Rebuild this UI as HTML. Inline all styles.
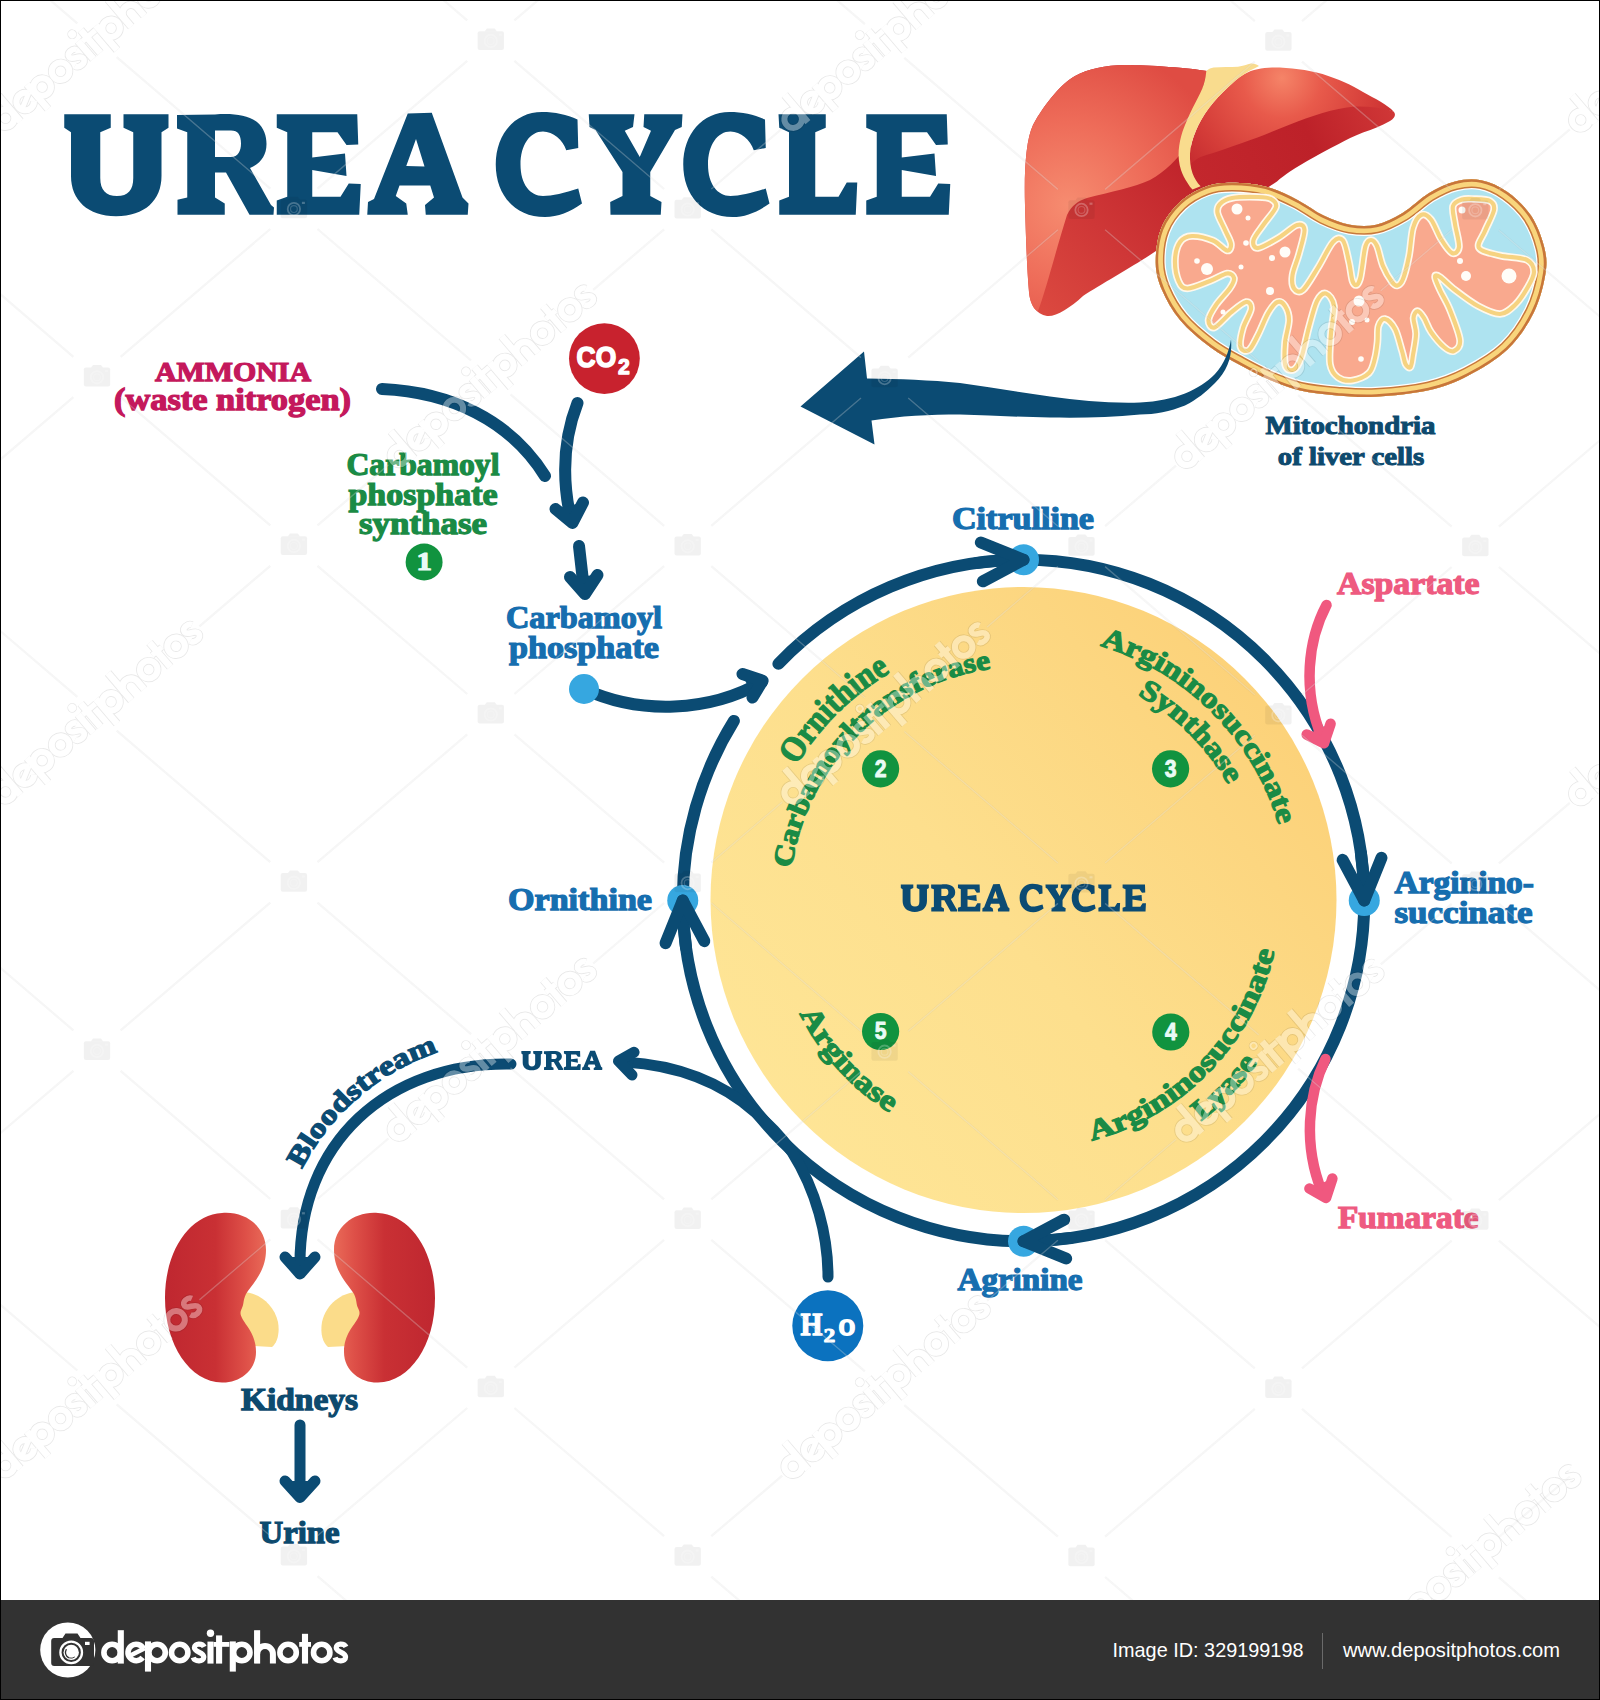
<!DOCTYPE html>
<html lang="en">
<head>
<meta charset="utf-8">
<title>Urea Cycle</title>
<style>
html,body{margin:0;padding:0;background:#fff;}
body{width:1600px;height:1700px;overflow:hidden;position:relative;font-family:"Liberation Serif",serif;}
svg{position:absolute;left:0;top:0;display:block;}
text{font-family:"Liberation Serif",serif;font-weight:bold;}
.sans{font-family:"Liberation Sans",sans-serif;font-weight:normal;}
.sansb{font-family:"Liberation Sans",sans-serif;font-weight:bold;}
</style>
</head>
<body>
<svg width="1600" height="1700" viewBox="0 0 1600 1700">
<defs>
<linearGradient id="gYellow" x1="0.12" y1="0.88" x2="0.95" y2="0.2">
<stop offset="0" stop-color="#fee596"/><stop offset="0.45" stop-color="#fddf8d"/><stop offset="0.8" stop-color="#fcd680"/><stop offset="1" stop-color="#fcd178"/>
</linearGradient>
<clipPath id="cpMain"><rect x="1" y="1" width="1598" height="1599"/></clipPath>
</defs>
<rect x="0" y="0" width="1600" height="1700" fill="#ffffff"/>
<!-- title -->
<g fill="#0b4b73" fill-rule="evenodd">
<g id="tUREA">
<path d="M64.25,114.25 L110.75,114.25 L110.75,127.75 L100.25,132.25 L100.25,178 C100.25,190 106,196 117,196 C128,196 133.25,190 133.25,178 L133.25,132.25 L123.5,127.75 L123.5,114.25 L168.5,114.25 L168.5,127.75 L161.5,132.25 L161.5,176 C161.500,200 145,216.25 116,216.25 C88,216.25 71,200 71,176 L71,132.25 L64.25,127.75 Z"/>
<path d="M177,115 L215,114.5 C232,113 248,115 257,122 C264,128 266.5,136 266.5,144 C266.500,156 260,164 250,168 L271,205 L274,207.5 L273.5,214.75 L249.5,214.75 L226,172.5 L215,172.5 L215,197.5 L224.75,203.5 L224.75,214.75 L177.5,214.75 L177.5,199.75 L187.25,197.5 L187.25,132.25 L177,128.5 Z M215,130.5 L215,157 L231,157 C238,157 241,151 241,143.5 C241,135 238,130.500 231,130.500 Z"/>
<path d="M276.75,114.25 L357.25,114.25 L358.25,144.50 L346.50,145.00 L337.50,132.25 L312.25,132.25 L312.25,157.50 L345.00,153.50 L346.50,176.00 L312.25,170.00 L312.25,196.75 L340.50,196.75 L348.75,183.50 L360.75,184.00 L359.25,214.75 L276.75,214.75 L276.75,200.50 L287.25,196.75 L287.25,132.25 L276.75,127.75 Z"/>
<path d="M407.75,113.50 L431.75,112.75 L462.50,197.50 L468.50,203.50 L467.75,214.75 L425.75,214.75 L425.00,205.00 L434.00,197.50 L430.25,185.50 L399.50,185.50 L395.75,196.00 L406.25,203.50 L407.75,214.75 L367.25,214.75 L368.00,202.00 L374.00,199.00 Z M416.00,139.00 L424.50,166.50 L406.25,166.00 Z"/>
</g><g id="tCYCLE">
<path d="M577.50,119.50 L578.25,148.00 L566.25,150.25 C563.00,140.00 553.00,131.50 543.00,131.50 C530.00,131.50 520.50,145.00 520.50,164.50 C520.50,184.00 530.00,196.00 543.00,196.00 C552.00,196.00 565.00,193.00 578.25,188.50 L582.00,203.50 C570.00,212.00 558.00,217.00 545.00,217.00 C515.00,217.00 495.75,195.00 495.75,164.50 C495.75,134.00 515.00,112.00 542.00,112.00 C555.00,112.00 567.00,114.50 577.50,119.50 Z"/>
<path d="M588.75,114.25 L634.50,114.25 L633.00,127.00 L624.75,130.75 L639.75,157.00 L651.00,130.75 L643.50,127.00 L644.25,114.25 L682.50,114.25 L681.75,127.00 L675.00,130.00 L650.25,172.00 L650.25,196.00 L661.50,202.00 L660.75,214.75 L610.50,214.75 L610.20,202.00 L622.50,196.00 L622.50,172.00 L595.50,130.00 L589.50,127.00 Z"/>
<path d="M765.00,119.50 L765.75,148.00 L753.75,150.25 C750.50,140.00 740.50,131.50 730.50,131.50 C717.50,131.50 708.00,145.00 708.00,164.50 C708.00,184.00 717.50,196.00 730.50,196.00 C739.50,196.00 752.50,193.00 765.75,188.50 L769.50,203.50 C757.50,212.00 745.50,217.00 732.50,217.00 C702.50,217.00 683.25,195.00 683.25,164.50 C683.25,134.00 702.50,112.00 729.50,112.00 C742.50,112.00 754.50,114.50 765.00,119.50 Z"/>
<path d="M778.50,114.25 L825.75,114.25 L825.75,127.75 L815.25,132.25 L815.25,196.75 L838.50,196.75 L846.75,182.50 L857.25,182.50 L855.75,214.75 L779.25,214.75 L779.25,200.50 L789.00,196.75 L789.00,132.25 L779.25,127.75 Z"/>
<path d="M866.25,114.25 L946.75,114.25 L947.75,144.50 L936.00,145.00 L927.00,132.25 L901.75,132.25 L901.75,157.50 L934.50,153.50 L936.00,176.00 L901.75,170.00 L901.75,196.75 L930.00,196.75 L938.25,183.50 L950.25,184.00 L948.75,214.75 L866.25,214.75 L866.25,200.50 L876.75,196.75 L876.75,132.25 L866.25,127.75 Z"/>
</g></g>
<!-- liver -->
<defs>
<radialGradient id="gLivL" cx="1068" cy="205" r="165" gradientUnits="userSpaceOnUse">
<stop offset="0" stop-color="#f68c70"/><stop offset="0.5" stop-color="#ee6c59"/><stop offset="1" stop-color="#df4c43"/>
</radialGradient>
<linearGradient id="gLivLd" x1="1040" y1="320" x2="1190" y2="170" gradientUnits="userSpaceOnUse">
<stop offset="0" stop-color="#dc4a40"/><stop offset="0.5" stop-color="#cf3737"/><stop offset="1" stop-color="#c0242b"/>
</linearGradient>
<radialGradient id="gLivR" cx="1282" cy="78" r="125" gradientUnits="userSpaceOnUse">
<stop offset="0" stop-color="#f58468"/><stop offset="0.32" stop-color="#e85a4b"/><stop offset="0.75" stop-color="#d43c38"/><stop offset="1" stop-color="#c62c30"/>
</radialGradient>
<linearGradient id="gLivRd" x1="1200" y1="200" x2="1390" y2="110" gradientUnits="userSpaceOnUse">
<stop offset="0" stop-color="#c3272d"/><stop offset="0.6" stop-color="#bd2129"/><stop offset="1" stop-color="#cf3636"/>
</linearGradient>
</defs>
<!-- right lobe underside -->
<path d="M1188,150 C1230,100 1320,85 1393.500,111.500 C1396,114 1395.500,117.500 1390,121 C1382,125.500 1373,129 1363,132.600 C1354,136 1346,140 1338.700,144 C1330,148.500 1322,152.500 1314.400,157 C1305,162 1297,167 1290,171.600 C1285,175 1281,178 1277,181.400 C1262,192 1240,204 1215,215 L1185,215 Z" fill="url(#gLivRd)"/>
<!-- right lobe top face -->
<path d="M1191,163.500 L1190,153.800 C1190.500,146 1192.500,139 1195.800,131 C1199,123.500 1203,116 1208.800,108.300 C1214,101 1221,94 1228.300,87 C1233,82.500 1238,78 1244.500,74 C1253,69.500 1263,67.600 1273.700,67.600 C1290,67.600 1307,70 1322.500,74 C1338,79 1352,85 1363,92 C1375,98.500 1388,105 1393.500,111.500 C1380,107.500 1368,106.300 1355,106.600 C1344,107.500 1333,110 1322.500,113 C1311,116.500 1300,120.500 1290,124.500 C1279,129 1268,133.500 1257.500,137.500 C1246,141.500 1235,145.500 1225,149 C1216,152 1208,154.500 1200.600,157 C1197,158.500 1194,161 1191,163.500 Z" fill="url(#gLivR)"/>
<!-- left lobe (silhouette = dark underside) -->
<path d="M1207,71 C1190,68 1150,65 1125,65 C1105,65 1088,69 1075,76 C1062,83 1045,103 1033,125 C1026,140 1024,170 1025,205 C1026,240 1027,270 1029,292 C1030,305 1036,314 1047,316 C1056,317 1070,308 1083,296 C1100,285 1130,268 1150,255 C1170,242 1190,225 1215,215 L1196,188 L1186,178 L1184.500,152 L1189,131 L1200,108 L1210,90 Z" fill="url(#gLivLd)"/>
<!-- left lobe top face -->
<path d="M1207,71 C1190,68 1150,65 1125,65 C1105,65 1088,69 1075,76 C1062,83 1045,103 1033,125 C1026,140 1024,170 1025,205 C1026,240 1027,270 1029,292 C1030,303 1034,310 1038,311 C1046,290 1056,250 1067,215 C1072,205 1078,201 1087,198 C1110,192 1135,187 1150,180 C1165,172 1178,158 1186,147 C1192,130 1200,100 1207,71 Z" fill="url(#gLivL)"/>
<!-- ligament -->
<path d="M1206.3,71 C1209,69 1211,68 1213.6,67.6 C1222,67 1230,67 1238,66.8 C1243,66 1247,64.500 1251,63.600 C1254,63.400 1257,64.500 1259,66 C1254,68.500 1249,71 1244.500,74 C1238,78 1233,82.500 1228.300,87 C1221,94 1214,101 1208.800,108.300 C1203,116 1199,123.500 1195.800,131 C1192.500,139 1190.500,146 1190,153.800 C1189.800,161 1190.500,167.500 1192.500,173.200 C1194.500,178.500 1197,182.500 1200.600,186.200 L1192.500,189.500 C1190.500,187.500 1189,185.500 1187.600,183 C1184.500,178.500 1182.500,174.500 1181,170 C1179,163.500 1178.200,157 1178.700,150.500 C1179.200,144 1180.500,137.500 1182.700,131 C1185.500,123 1189,115.500 1192.500,108.200 C1196,101.500 1199.500,95 1202.200,88.800 C1204.500,83 1205.800,77 1206.300,71 Z" fill="#f9dc8e"/>
<!-- mitochondria -->
<clipPath id="cpM"><path d="M1155.7,262.9 C1155.5,252.7 1157.0,238.8 1161.0,228.7 C1165.0,218.6 1172.0,209.5 1179.4,202.5 C1186.8,195.5 1196.8,190.0 1205.6,186.7 C1214.3,183.4 1221.8,182.8 1231.9,182.8 C1242.0,182.8 1255.1,183.8 1266.0,186.7 C1276.9,189.5 1287.9,195.1 1297.5,199.9 C1307.1,204.7 1315.0,211.4 1323.7,215.6 C1332.5,219.8 1341.2,223.3 1350.0,224.8 C1358.8,226.3 1367.5,226.8 1376.2,224.8 C1385.0,222.8 1393.8,218.2 1402.5,213.0 C1411.2,207.8 1420.0,198.6 1428.7,193.3 C1437.5,188.1 1446.2,183.7 1455.0,181.5 C1463.8,179.3 1472.5,178.4 1481.2,180.2 C1490.0,181.9 1499.2,186.1 1507.5,192.0 C1515.8,197.9 1524.9,206.4 1531.0,215.6 C1537.1,224.8 1541.8,237.5 1544.2,247.1 C1546.6,256.7 1547.2,262.5 1545.5,273.4 C1543.8,284.3 1540.0,300.0 1533.7,312.7 C1527.4,325.4 1518.5,339.0 1507.5,349.5 C1496.5,360.0 1481.1,368.9 1468.0,375.7 C1454.9,382.5 1444.0,386.7 1428.7,390.2 C1413.4,393.7 1391.5,395.8 1376.2,396.7 C1360.9,397.6 1349.6,396.4 1336.9,395.4 C1324.2,394.4 1311.2,393.1 1300.0,390.5 C1288.8,387.9 1280.0,384.2 1270.0,380.0 C1260.0,375.8 1250.0,370.5 1240.0,365.0 C1230.0,359.5 1220.0,354.5 1210.0,347.0 C1200.0,339.5 1188.0,329.5 1180.0,320.0 C1172.0,310.5 1166.0,299.5 1162.0,290.0 C1158.0,280.5 1155.9,273.1 1155.7,262.9 Z"/></clipPath>
<path d="M1155.7,262.9 C1155.5,252.7 1157.0,238.8 1161.0,228.7 C1165.0,218.6 1172.0,209.5 1179.4,202.5 C1186.8,195.5 1196.8,190.0 1205.6,186.7 C1214.3,183.4 1221.8,182.8 1231.9,182.8 C1242.0,182.8 1255.1,183.8 1266.0,186.7 C1276.9,189.5 1287.9,195.1 1297.5,199.9 C1307.1,204.7 1315.0,211.4 1323.7,215.6 C1332.5,219.8 1341.2,223.3 1350.0,224.8 C1358.8,226.3 1367.5,226.8 1376.2,224.8 C1385.0,222.8 1393.8,218.2 1402.5,213.0 C1411.2,207.8 1420.0,198.6 1428.7,193.3 C1437.5,188.1 1446.2,183.7 1455.0,181.5 C1463.8,179.3 1472.5,178.4 1481.2,180.2 C1490.0,181.9 1499.2,186.1 1507.5,192.0 C1515.8,197.9 1524.9,206.4 1531.0,215.6 C1537.1,224.8 1541.8,237.5 1544.2,247.1 C1546.6,256.7 1547.2,262.5 1545.5,273.4 C1543.8,284.3 1540.0,300.0 1533.7,312.7 C1527.4,325.4 1518.5,339.0 1507.5,349.5 C1496.5,360.0 1481.1,368.9 1468.0,375.7 C1454.9,382.5 1444.0,386.7 1428.7,390.2 C1413.4,393.7 1391.5,395.8 1376.2,396.7 C1360.9,397.6 1349.6,396.4 1336.9,395.4 C1324.2,394.4 1311.2,393.1 1300.0,390.5 C1288.8,387.9 1280.0,384.2 1270.0,380.0 C1260.0,375.8 1250.0,370.5 1240.0,365.0 C1230.0,359.5 1220.0,354.5 1210.0,347.0 C1200.0,339.5 1188.0,329.5 1180.0,320.0 C1172.0,310.5 1166.0,299.5 1162.0,290.0 C1158.0,280.5 1155.9,273.1 1155.7,262.9 Z" fill="#aee3f0"/>
<g clip-path="url(#cpM)" fill="none"><path d="M1155.7,262.9 C1155.5,252.7 1157.0,238.8 1161.0,228.7 C1165.0,218.6 1172.0,209.5 1179.4,202.5 C1186.8,195.5 1196.8,190.0 1205.6,186.7 C1214.3,183.4 1221.8,182.8 1231.9,182.8 C1242.0,182.8 1255.1,183.8 1266.0,186.7 C1276.9,189.5 1287.9,195.1 1297.5,199.9 C1307.1,204.7 1315.0,211.4 1323.7,215.6 C1332.5,219.8 1341.2,223.3 1350.0,224.8 C1358.8,226.3 1367.5,226.8 1376.2,224.8 C1385.0,222.8 1393.8,218.2 1402.5,213.0 C1411.2,207.8 1420.0,198.6 1428.7,193.3 C1437.5,188.1 1446.2,183.7 1455.0,181.5 C1463.8,179.3 1472.5,178.4 1481.2,180.2 C1490.0,181.9 1499.2,186.1 1507.5,192.0 C1515.8,197.9 1524.9,206.4 1531.0,215.6 C1537.1,224.8 1541.8,237.5 1544.2,247.1 C1546.6,256.7 1547.2,262.5 1545.5,273.4 C1543.8,284.3 1540.0,300.0 1533.7,312.7 C1527.4,325.4 1518.5,339.0 1507.5,349.5 C1496.5,360.0 1481.1,368.9 1468.0,375.7 C1454.9,382.5 1444.0,386.7 1428.7,390.2 C1413.4,393.7 1391.5,395.8 1376.2,396.7 C1360.9,397.6 1349.6,396.4 1336.9,395.4 C1324.2,394.4 1311.2,393.1 1300.0,390.5 C1288.8,387.9 1280.0,384.2 1270.0,380.0 C1260.0,375.8 1250.0,370.5 1240.0,365.0 C1230.0,359.5 1220.0,354.5 1210.0,347.0 C1200.0,339.5 1188.0,329.5 1180.0,320.0 C1172.0,310.5 1166.0,299.5 1162.0,290.0 C1158.0,280.5 1155.9,273.1 1155.7,262.9 Z" stroke="#ffffff" stroke-width="20"/><path d="M1155.7,262.9 C1155.5,252.7 1157.0,238.8 1161.0,228.7 C1165.0,218.6 1172.0,209.5 1179.4,202.5 C1186.8,195.5 1196.8,190.0 1205.6,186.7 C1214.3,183.4 1221.8,182.8 1231.9,182.8 C1242.0,182.8 1255.1,183.8 1266.0,186.7 C1276.9,189.5 1287.9,195.1 1297.5,199.9 C1307.1,204.7 1315.0,211.4 1323.7,215.6 C1332.5,219.8 1341.2,223.3 1350.0,224.8 C1358.8,226.3 1367.5,226.8 1376.2,224.8 C1385.0,222.8 1393.8,218.2 1402.5,213.0 C1411.2,207.8 1420.0,198.6 1428.7,193.3 C1437.5,188.1 1446.2,183.7 1455.0,181.5 C1463.8,179.3 1472.5,178.4 1481.2,180.2 C1490.0,181.9 1499.2,186.1 1507.5,192.0 C1515.8,197.9 1524.9,206.4 1531.0,215.6 C1537.1,224.8 1541.8,237.5 1544.2,247.1 C1546.6,256.7 1547.2,262.5 1545.5,273.4 C1543.8,284.3 1540.0,300.0 1533.7,312.7 C1527.4,325.4 1518.5,339.0 1507.5,349.5 C1496.5,360.0 1481.1,368.9 1468.0,375.7 C1454.9,382.5 1444.0,386.7 1428.7,390.2 C1413.4,393.7 1391.5,395.8 1376.2,396.7 C1360.9,397.6 1349.6,396.4 1336.9,395.4 C1324.2,394.4 1311.2,393.1 1300.0,390.5 C1288.8,387.9 1280.0,384.2 1270.0,380.0 C1260.0,375.8 1250.0,370.5 1240.0,365.0 C1230.0,359.5 1220.0,354.5 1210.0,347.0 C1200.0,339.5 1188.0,329.5 1180.0,320.0 C1172.0,310.5 1166.0,299.5 1162.0,290.0 C1158.0,280.5 1155.9,273.1 1155.7,262.9 Z" stroke="#c8793c" stroke-width="17.5"/><path d="M1155.7,262.9 C1155.5,252.7 1157.0,238.8 1161.0,228.7 C1165.0,218.6 1172.0,209.5 1179.4,202.5 C1186.8,195.5 1196.8,190.0 1205.6,186.7 C1214.3,183.4 1221.8,182.8 1231.9,182.8 C1242.0,182.8 1255.1,183.8 1266.0,186.7 C1276.9,189.5 1287.9,195.1 1297.5,199.9 C1307.1,204.7 1315.0,211.4 1323.7,215.6 C1332.5,219.8 1341.2,223.3 1350.0,224.8 C1358.8,226.3 1367.5,226.8 1376.2,224.8 C1385.0,222.8 1393.8,218.2 1402.5,213.0 C1411.2,207.8 1420.0,198.6 1428.7,193.3 C1437.5,188.1 1446.2,183.7 1455.0,181.5 C1463.8,179.3 1472.5,178.4 1481.2,180.2 C1490.0,181.9 1499.2,186.1 1507.5,192.0 C1515.8,197.9 1524.9,206.4 1531.0,215.6 C1537.1,224.8 1541.8,237.5 1544.2,247.1 C1546.6,256.7 1547.2,262.5 1545.5,273.4 C1543.8,284.3 1540.0,300.0 1533.7,312.7 C1527.4,325.4 1518.5,339.0 1507.5,349.5 C1496.5,360.0 1481.1,368.9 1468.0,375.7 C1454.9,382.5 1444.0,386.7 1428.7,390.2 C1413.4,393.7 1391.5,395.8 1376.2,396.7 C1360.9,397.6 1349.6,396.4 1336.9,395.4 C1324.2,394.4 1311.2,393.1 1300.0,390.5 C1288.8,387.9 1280.0,384.2 1270.0,380.0 C1260.0,375.8 1250.0,370.5 1240.0,365.0 C1230.0,359.5 1220.0,354.5 1210.0,347.0 C1200.0,339.5 1188.0,329.5 1180.0,320.0 C1172.0,310.5 1166.0,299.5 1162.0,290.0 C1158.0,280.5 1155.9,273.1 1155.7,262.9 Z" stroke="#f9d57c" stroke-width="14.5"/><path d="M1155.7,262.9 C1155.5,252.7 1157.0,238.8 1161.0,228.7 C1165.0,218.6 1172.0,209.5 1179.4,202.5 C1186.8,195.5 1196.8,190.0 1205.6,186.7 C1214.3,183.4 1221.8,182.8 1231.9,182.8 C1242.0,182.8 1255.1,183.8 1266.0,186.7 C1276.9,189.5 1287.9,195.1 1297.5,199.9 C1307.1,204.7 1315.0,211.4 1323.7,215.6 C1332.5,219.8 1341.2,223.3 1350.0,224.8 C1358.8,226.3 1367.5,226.8 1376.2,224.8 C1385.0,222.8 1393.8,218.2 1402.5,213.0 C1411.2,207.8 1420.0,198.6 1428.7,193.3 C1437.5,188.1 1446.2,183.7 1455.0,181.5 C1463.8,179.3 1472.5,178.4 1481.2,180.2 C1490.0,181.9 1499.2,186.1 1507.5,192.0 C1515.8,197.9 1524.9,206.4 1531.0,215.6 C1537.1,224.8 1541.8,237.5 1544.2,247.1 C1546.6,256.7 1547.2,262.5 1545.5,273.4 C1543.8,284.3 1540.0,300.0 1533.7,312.7 C1527.4,325.4 1518.5,339.0 1507.5,349.5 C1496.5,360.0 1481.1,368.9 1468.0,375.7 C1454.9,382.5 1444.0,386.7 1428.7,390.2 C1413.4,393.7 1391.5,395.8 1376.2,396.7 C1360.9,397.6 1349.6,396.4 1336.9,395.4 C1324.2,394.4 1311.2,393.1 1300.0,390.5 C1288.8,387.9 1280.0,384.2 1270.0,380.0 C1260.0,375.8 1250.0,370.5 1240.0,365.0 C1230.0,359.5 1220.0,354.5 1210.0,347.0 C1200.0,339.5 1188.0,329.5 1180.0,320.0 C1172.0,310.5 1166.0,299.5 1162.0,290.0 C1158.0,280.5 1155.9,273.1 1155.7,262.9 Z" stroke="#c8763a" stroke-width="5"/></g>
<path d="M1220.0,204.0 C1222.4,201.5 1225.7,199.2 1232.0,198.0 C1238.3,196.8 1251.5,196.8 1258.0,197.0 C1264.5,197.2 1268.0,197.3 1271.0,199.0 C1274.0,200.7 1277.2,202.8 1276.0,207.0 C1274.8,211.2 1267.8,218.5 1264.0,224.0 C1260.2,229.5 1254.5,236.0 1253.5,240.0 C1252.5,244.0 1253.8,248.4 1258.0,248.0 C1262.2,247.6 1272.5,241.3 1279.0,237.5 C1285.5,233.7 1292.8,226.2 1297.0,225.0 C1301.2,223.8 1304.2,225.2 1304.5,230.0 C1304.8,234.8 1301.0,246.5 1299.0,254.0 C1297.0,261.5 1293.3,269.2 1292.5,275.0 C1291.7,280.8 1292.2,286.0 1294.0,288.5 C1295.8,291.0 1299.0,293.5 1303.0,290.0 C1307.0,286.5 1313.0,275.5 1318.0,267.5 C1323.0,259.5 1328.8,246.5 1333.0,242.0 C1337.2,237.5 1340.3,237.2 1343.0,240.5 C1345.7,243.8 1347.4,255.2 1349.0,262.0 C1350.6,268.8 1351.2,277.2 1352.5,281.0 C1353.8,284.8 1355.2,285.3 1356.5,285.0 C1357.8,284.7 1359.1,281.8 1360.0,279.0 C1360.9,276.2 1361.1,273.5 1362.0,268.0 C1362.9,262.5 1364.0,250.7 1365.5,246.0 C1367.0,241.3 1369.1,240.0 1371.0,240.0 C1372.9,240.0 1375.0,241.7 1377.0,246.0 C1379.0,250.3 1380.5,260.0 1383.0,266.0 C1385.5,272.0 1389.6,278.8 1392.0,282.0 C1394.4,285.2 1395.7,286.0 1397.5,285.5 C1399.3,285.0 1401.1,283.9 1403.0,279.0 C1404.9,274.1 1407.3,264.5 1409.0,256.0 C1410.7,247.5 1411.0,234.8 1413.0,228.0 C1415.0,221.2 1418.0,216.4 1421.0,215.0 C1424.0,213.6 1427.7,215.5 1431.0,219.5 C1434.3,223.5 1437.5,233.4 1441.0,239.0 C1444.5,244.6 1449.0,251.7 1452.0,253.0 C1455.0,254.3 1458.5,251.8 1459.0,247.0 C1459.5,242.2 1456.0,230.8 1455.0,224.0 C1454.0,217.2 1451.8,210.1 1453.0,206.0 C1454.2,201.9 1458.5,200.7 1462.0,199.5 C1465.5,198.3 1469.3,198.8 1474.0,199.0 C1478.7,199.2 1486.7,199.2 1490.0,201.0 C1493.3,202.8 1494.8,205.0 1494.0,210.0 C1493.2,215.0 1487.5,224.7 1485.0,231.0 C1482.5,237.3 1476.5,243.9 1479.0,248.0 C1481.5,252.1 1492.0,253.5 1500.0,255.5 C1508.0,257.5 1521.3,257.2 1527.0,260.0 C1532.7,262.8 1534.0,267.2 1534.0,272.0 C1534.0,276.8 1530.2,283.0 1527.0,288.5 C1523.8,294.0 1519.5,300.8 1515.0,305.0 C1510.5,309.2 1506.2,313.8 1500.0,314.0 C1493.8,314.2 1485.5,310.0 1478.0,306.0 C1470.5,302.0 1461.3,294.8 1455.0,290.0 C1448.7,285.2 1443.3,279.2 1440.0,277.0 C1436.7,274.8 1435.0,274.8 1435.0,277.0 C1435.0,279.2 1437.5,284.5 1440.0,290.0 C1442.5,295.5 1446.7,301.7 1450.0,310.0 C1453.3,318.3 1459.3,333.2 1460.0,340.0 C1460.7,346.8 1456.7,349.8 1454.0,351.0 C1451.3,352.2 1447.8,350.2 1444.0,347.0 C1440.2,343.8 1434.3,336.8 1431.0,332.0 C1427.7,327.2 1426.2,321.5 1424.0,318.0 C1421.8,314.5 1419.2,311.0 1417.5,311.0 C1415.8,311.0 1413.8,314.2 1413.5,318.0 C1413.2,321.8 1416.1,327.8 1416.0,334.0 C1415.9,340.2 1413.9,349.5 1413.0,355.0 C1412.1,360.5 1411.8,365.5 1410.5,367.0 C1409.2,368.5 1406.9,366.7 1405.5,364.0 C1404.1,361.3 1403.8,356.8 1402.0,351.0 C1400.2,345.2 1397.8,334.3 1395.0,329.0 C1392.2,323.7 1387.8,319.5 1385.0,319.0 C1382.2,318.5 1379.8,322.2 1378.5,326.0 C1377.2,329.8 1378.1,336.7 1377.5,342.0 C1376.9,347.3 1376.4,352.8 1375.0,358.0 C1373.6,363.2 1372.8,369.2 1369.0,373.0 C1365.2,376.8 1357.7,379.8 1352.5,380.5 C1347.3,381.2 1341.8,380.2 1338.0,377.5 C1334.2,374.8 1331.2,371.4 1330.0,364.0 C1328.8,356.6 1330.3,342.7 1331.0,333.0 C1331.7,323.3 1334.8,312.6 1334.0,306.0 C1333.2,299.4 1328.8,294.3 1326.0,293.5 C1323.2,292.7 1319.8,295.4 1317.0,301.0 C1314.2,306.6 1311.6,317.7 1309.0,327.0 C1306.4,336.3 1304.0,349.9 1301.5,357.0 C1299.0,364.1 1296.7,368.0 1294.0,369.5 C1291.3,371.0 1287.0,370.4 1285.5,366.0 C1284.0,361.6 1284.4,350.7 1285.0,343.0 C1285.6,335.3 1289.0,326.2 1289.0,320.0 C1289.0,313.8 1286.9,309.0 1285.0,306.0 C1283.1,303.0 1280.2,300.9 1277.5,302.0 C1274.8,303.1 1271.8,307.0 1268.5,312.5 C1265.2,318.0 1261.2,328.8 1258.0,335.0 C1254.8,341.2 1251.9,348.0 1249.0,350.0 C1246.1,352.0 1241.5,350.7 1240.5,347.0 C1239.5,343.3 1241.2,334.3 1243.0,328.0 C1244.8,321.7 1250.5,313.3 1251.0,309.0 C1251.5,304.7 1249.3,301.4 1246.0,302.0 C1242.7,302.6 1236.2,308.2 1231.0,312.5 C1225.8,316.8 1218.2,326.2 1214.5,327.5 C1210.8,328.8 1208.2,323.8 1208.5,320.0 C1208.8,316.2 1212.4,310.3 1216.0,305.0 C1219.6,299.7 1227.0,292.5 1230.0,288.0 C1233.0,283.5 1234.5,280.4 1234.0,278.0 C1233.5,275.6 1231.0,273.0 1227.0,273.5 C1223.0,274.0 1216.6,278.5 1210.0,281.0 C1203.4,283.5 1192.8,288.5 1187.5,288.5 C1182.2,288.5 1180.6,285.8 1178.5,281.0 C1176.4,276.2 1174.8,266.5 1175.0,260.0 C1175.2,253.5 1177.2,246.0 1180.0,242.0 C1182.8,238.0 1186.5,236.2 1192.0,236.0 C1197.5,235.8 1207.2,238.1 1213.0,240.5 C1218.8,242.9 1224.0,249.9 1227.0,250.5 C1230.0,251.1 1231.3,247.4 1231.0,244.0 C1230.7,240.6 1227.2,235.2 1225.0,230.0 C1222.8,224.8 1218.3,217.3 1217.5,213.0 C1216.7,208.7 1217.6,206.5 1220.0,204.0 Z" fill="#f9a98e" stroke="#fff8ec" stroke-width="7.5" stroke-linejoin="round"/>
<path d="M1220.0,204.0 C1222.4,201.5 1225.7,199.2 1232.0,198.0 C1238.3,196.8 1251.5,196.8 1258.0,197.0 C1264.5,197.2 1268.0,197.3 1271.0,199.0 C1274.0,200.7 1277.2,202.8 1276.0,207.0 C1274.8,211.2 1267.8,218.5 1264.0,224.0 C1260.2,229.5 1254.5,236.0 1253.5,240.0 C1252.5,244.0 1253.8,248.4 1258.0,248.0 C1262.2,247.6 1272.5,241.3 1279.0,237.5 C1285.5,233.7 1292.8,226.2 1297.0,225.0 C1301.2,223.8 1304.2,225.2 1304.5,230.0 C1304.8,234.8 1301.0,246.5 1299.0,254.0 C1297.0,261.5 1293.3,269.2 1292.5,275.0 C1291.7,280.8 1292.2,286.0 1294.0,288.5 C1295.8,291.0 1299.0,293.5 1303.0,290.0 C1307.0,286.5 1313.0,275.5 1318.0,267.5 C1323.0,259.5 1328.8,246.5 1333.0,242.0 C1337.2,237.5 1340.3,237.2 1343.0,240.5 C1345.7,243.8 1347.4,255.2 1349.0,262.0 C1350.6,268.8 1351.2,277.2 1352.5,281.0 C1353.8,284.8 1355.2,285.3 1356.5,285.0 C1357.8,284.7 1359.1,281.8 1360.0,279.0 C1360.9,276.2 1361.1,273.5 1362.0,268.0 C1362.9,262.5 1364.0,250.7 1365.5,246.0 C1367.0,241.3 1369.1,240.0 1371.0,240.0 C1372.9,240.0 1375.0,241.7 1377.0,246.0 C1379.0,250.3 1380.5,260.0 1383.0,266.0 C1385.5,272.0 1389.6,278.8 1392.0,282.0 C1394.4,285.2 1395.7,286.0 1397.5,285.5 C1399.3,285.0 1401.1,283.9 1403.0,279.0 C1404.9,274.1 1407.3,264.5 1409.0,256.0 C1410.7,247.5 1411.0,234.8 1413.0,228.0 C1415.0,221.2 1418.0,216.4 1421.0,215.0 C1424.0,213.6 1427.7,215.5 1431.0,219.5 C1434.3,223.5 1437.5,233.4 1441.0,239.0 C1444.5,244.6 1449.0,251.7 1452.0,253.0 C1455.0,254.3 1458.5,251.8 1459.0,247.0 C1459.5,242.2 1456.0,230.8 1455.0,224.0 C1454.0,217.2 1451.8,210.1 1453.0,206.0 C1454.2,201.9 1458.5,200.7 1462.0,199.5 C1465.5,198.3 1469.3,198.8 1474.0,199.0 C1478.7,199.2 1486.7,199.2 1490.0,201.0 C1493.3,202.8 1494.8,205.0 1494.0,210.0 C1493.2,215.0 1487.5,224.7 1485.0,231.0 C1482.5,237.3 1476.5,243.9 1479.0,248.0 C1481.5,252.1 1492.0,253.5 1500.0,255.5 C1508.0,257.5 1521.3,257.2 1527.0,260.0 C1532.7,262.8 1534.0,267.2 1534.0,272.0 C1534.0,276.8 1530.2,283.0 1527.0,288.5 C1523.8,294.0 1519.5,300.8 1515.0,305.0 C1510.5,309.2 1506.2,313.8 1500.0,314.0 C1493.8,314.2 1485.5,310.0 1478.0,306.0 C1470.5,302.0 1461.3,294.8 1455.0,290.0 C1448.7,285.2 1443.3,279.2 1440.0,277.0 C1436.7,274.8 1435.0,274.8 1435.0,277.0 C1435.0,279.2 1437.5,284.5 1440.0,290.0 C1442.5,295.5 1446.7,301.7 1450.0,310.0 C1453.3,318.3 1459.3,333.2 1460.0,340.0 C1460.7,346.8 1456.7,349.8 1454.0,351.0 C1451.3,352.2 1447.8,350.2 1444.0,347.0 C1440.2,343.8 1434.3,336.8 1431.0,332.0 C1427.7,327.2 1426.2,321.5 1424.0,318.0 C1421.8,314.5 1419.2,311.0 1417.5,311.0 C1415.8,311.0 1413.8,314.2 1413.5,318.0 C1413.2,321.8 1416.1,327.8 1416.0,334.0 C1415.9,340.2 1413.9,349.5 1413.0,355.0 C1412.1,360.5 1411.8,365.5 1410.5,367.0 C1409.2,368.5 1406.9,366.7 1405.5,364.0 C1404.1,361.3 1403.8,356.8 1402.0,351.0 C1400.2,345.2 1397.8,334.3 1395.0,329.0 C1392.2,323.7 1387.8,319.5 1385.0,319.0 C1382.2,318.5 1379.8,322.2 1378.5,326.0 C1377.2,329.8 1378.1,336.7 1377.5,342.0 C1376.9,347.3 1376.4,352.8 1375.0,358.0 C1373.6,363.2 1372.8,369.2 1369.0,373.0 C1365.2,376.8 1357.7,379.8 1352.5,380.5 C1347.3,381.2 1341.8,380.2 1338.0,377.5 C1334.2,374.8 1331.2,371.4 1330.0,364.0 C1328.8,356.6 1330.3,342.7 1331.0,333.0 C1331.7,323.3 1334.8,312.6 1334.0,306.0 C1333.2,299.4 1328.8,294.3 1326.0,293.5 C1323.2,292.7 1319.8,295.4 1317.0,301.0 C1314.2,306.6 1311.6,317.7 1309.0,327.0 C1306.4,336.3 1304.0,349.9 1301.5,357.0 C1299.0,364.1 1296.7,368.0 1294.0,369.5 C1291.3,371.0 1287.0,370.4 1285.5,366.0 C1284.0,361.6 1284.4,350.7 1285.0,343.0 C1285.6,335.3 1289.0,326.2 1289.0,320.0 C1289.0,313.8 1286.9,309.0 1285.0,306.0 C1283.1,303.0 1280.2,300.9 1277.5,302.0 C1274.8,303.1 1271.8,307.0 1268.5,312.5 C1265.2,318.0 1261.2,328.8 1258.0,335.0 C1254.8,341.2 1251.9,348.0 1249.0,350.0 C1246.1,352.0 1241.5,350.7 1240.5,347.0 C1239.5,343.3 1241.2,334.3 1243.0,328.0 C1244.8,321.7 1250.5,313.3 1251.0,309.0 C1251.5,304.7 1249.3,301.4 1246.0,302.0 C1242.7,302.6 1236.2,308.2 1231.0,312.5 C1225.8,316.8 1218.2,326.2 1214.5,327.5 C1210.8,328.8 1208.2,323.8 1208.5,320.0 C1208.8,316.2 1212.4,310.3 1216.0,305.0 C1219.6,299.7 1227.0,292.5 1230.0,288.0 C1233.0,283.5 1234.5,280.4 1234.0,278.0 C1233.5,275.6 1231.0,273.0 1227.0,273.5 C1223.0,274.0 1216.6,278.5 1210.0,281.0 C1203.4,283.5 1192.8,288.5 1187.5,288.5 C1182.2,288.5 1180.6,285.8 1178.5,281.0 C1176.4,276.2 1174.8,266.5 1175.0,260.0 C1175.2,253.5 1177.2,246.0 1180.0,242.0 C1182.8,238.0 1186.5,236.2 1192.0,236.0 C1197.5,235.8 1207.2,238.1 1213.0,240.5 C1218.8,242.9 1224.0,249.9 1227.0,250.5 C1230.0,251.1 1231.3,247.4 1231.0,244.0 C1230.7,240.6 1227.2,235.2 1225.0,230.0 C1222.8,224.8 1218.3,217.3 1217.5,213.0 C1216.7,208.7 1217.6,206.5 1220.0,204.0 Z" fill="none" stroke="#f6d381" stroke-width="4.2" stroke-linejoin="round"/>
<circle cx="1237" cy="209" r="5.5" fill="#fffdf8"/>
<circle cx="1248" cy="218" r="2.5" fill="#fffdf8"/>
<circle cx="1246" cy="243" r="2.8" fill="#fffdf8"/>
<circle cx="1197" cy="261" r="2.8" fill="#fffdf8"/>
<circle cx="1207" cy="269" r="6" fill="#fffdf8"/>
<circle cx="1241" cy="267" r="2.5" fill="#fffdf8"/>
<circle cx="1285" cy="252" r="5.5" fill="#fffdf8"/>
<circle cx="1272" cy="258" r="3" fill="#fffdf8"/>
<circle cx="1270" cy="291" r="4" fill="#fffdf8"/>
<circle cx="1223" cy="312" r="2.5" fill="#fffdf8"/>
<circle cx="1462" cy="210" r="3.5" fill="#fffdf8"/>
<circle cx="1460" cy="261" r="3" fill="#fffdf8"/>
<circle cx="1466" cy="276" r="5" fill="#fffdf8"/>
<circle cx="1509" cy="276" r="7.5" fill="#fffdf8"/>
<circle cx="1359" cy="301" r="5.5" fill="#fffdf8"/>
<circle cx="1367" cy="320" r="2.5" fill="#fffdf8"/>
<circle cx="1352" cy="322" r="3" fill="#fffdf8"/>
<circle cx="1361" cy="359" r="2.8" fill="#fffdf8"/>
<!-- big arrow + mito label -->
<path d="M800.500,406.500 L864,351.500 L867,378.500 C900,379 930,380 960,383 C990,387 1020,392.500 1050,396.500 C1080,400.500 1110,403.500 1140,402.500 C1158,401.500 1172,398.500 1185,393.500 C1198,388 1207,382 1215,374 C1224,364 1229,352 1231,339.500 C1232.500,355 1228,370 1215,383 C1206,392 1197,399.500 1185,405.500 C1170,411.500 1155,414.500 1140,414.500 C1110,417.500 1080,418 1050,417.500 C1020,417 990,415.500 960,414.500 C930,414.500 900,416 871.500,420.500 L874.500,444.500 Z" fill="#0b4b73"/>
<g fill="#0d4a6e" stroke="#0d4a6e" stroke-width="1.0" font-size="24.5" text-anchor="middle">
<text x="1350.500" y="433.500" textLength="170" lengthAdjust="spacingAndGlyphs">Mitochondria</text>
<text x="1351" y="465" textLength="146.500" lengthAdjust="spacingAndGlyphs">of liver cells</text>
</g>
<!-- ammonia / co2 / carbamoyl phosphate -->
<g font-size="28">
<text x="155" y="381" fill="#c4185c" stroke="#c4185c" stroke-width="1.25" textLength="156" lengthAdjust="spacingAndGlyphs">AMMONIA</text>
<text x="114" y="410" fill="#c4185c" stroke="#c4185c" stroke-width="1.25" font-size="30.5" textLength="237" lengthAdjust="spacingAndGlyphs">(waste nitrogen)</text>
<g fill="#1a8b45" stroke="#1a8b45" stroke-width="1.25" font-size="30.5" text-anchor="middle">
<text x="423" y="475" textLength="153" lengthAdjust="spacingAndGlyphs">Carbamoyl</text>
<text x="423" y="505" textLength="149" lengthAdjust="spacingAndGlyphs">phosphate</text>
<text x="423" y="534" textLength="128" lengthAdjust="spacingAndGlyphs">synthase</text>
</g>
<g fill="#166eaf" stroke="#166eaf" stroke-width="1.25" font-size="30.5">
<text x="506" y="628" textLength="156" lengthAdjust="spacingAndGlyphs">Carbamoyl</text>
<text x="509" y="658" textLength="150" lengthAdjust="spacingAndGlyphs">phosphate</text>
</g>
</g>
<circle cx="424.1" cy="562" r="18.5" fill="#11933f"/>
<text x="416.4" y="569.8" font-size="25" fill="#e9fbf5" stroke="#e9fbf5" stroke-width="1.2" stroke-linejoin="round" textLength="15.4" lengthAdjust="spacingAndGlyphs">1</text>
<circle cx="604.4" cy="358.6" r="35.4" fill="#c8222e"/>
<text x="576.6" y="367" font-size="29.5" fill="#fff" stroke="#fff" stroke-width="1.6" stroke-linejoin="round" class="sansb" textLength="39.6" lengthAdjust="spacingAndGlyphs">CO</text>
<text x="617.9" y="373.8" font-size="22" fill="#fff" stroke="#fff" stroke-width="1.25" stroke-linejoin="round" class="sansb" textLength="11.8" lengthAdjust="spacingAndGlyphs">2</text>
<g fill="none" stroke="#0b4b73" stroke-width="12" stroke-linecap="round" stroke-linejoin="round">
<path d="M382,389 C450,392 510,420 545,476"/>
<path d="M577.500,403 C563,440 562,480 571,520"/>
<path d="M579,546 L584,590"/>
<path d="M584,689 C640,715 710,712 762,682"/>
</g>
<g fill="#0b4b73" stroke="#0b4b73" stroke-width="12" stroke-linejoin="round" stroke-linecap="round">
<path d="M555.5,509 L572.4,523 L583,502.5"/>
<path d="M570,577 L585,594 L597.5,575"/>
<path d="M742.5,674 L762.6,680.7 L752.5,697.5"/>
</g>
<circle cx="584" cy="689" r="15" fill="#36a7e0"/>
<!-- urea cycle -->
<circle cx="1023.5" cy="900.0" r="313.0" fill="url(#gYellow)"/>
<g fill="none" stroke="#0b4b73" stroke-width="12" stroke-linecap="round" stroke-linejoin="round">
<path d="M778.38,663.80 A340.75,340.75 0 0 1 1023.50,559.75"/>
<path d="M1023.50,559.75 A340.75,340.75 0 0 1 1364.25,900.50"/>
<path d="M1364.25,900.50 A340.75,340.75 0 0 1 1023.50,1241.25"/>
<path d="M1023.50,1241.25 A340.75,340.75 0 0 1 682.75,900.50"/>
<path d="M682.75,900.50 A340.75,340.75 0 0 1 733.90,720.94"/>
</g>
<circle cx="1023.50" cy="559.75" r="15.5" fill="#36a7e0"/>
<circle cx="1364.25" cy="900.50" r="15.5" fill="#36a7e0"/>
<circle cx="1023.50" cy="1241.25" r="15.5" fill="#36a7e0"/>
<circle cx="682.75" cy="900.50" r="15.5" fill="#36a7e0"/>
<g fill="none" stroke="#0b4b73" stroke-width="12" stroke-linecap="round" stroke-linejoin="round">
<path d="M976.08,563.07 A340.75,340.75 0 0 1 1023.50,559.75"/>
<path d="M982.88,581.35 L1023.50,559.75 L980.85,542.52"/>
<path d="M1360.93,853.08 A340.75,340.75 0 0 1 1364.25,900.50"/>
<path d="M1342.65,859.88 L1364.25,900.50 L1381.48,857.85"/>
<path d="M1070.92,1237.93 A340.75,340.75 0 0 1 1023.50,1241.25"/>
<path d="M1064.12,1219.65 L1023.50,1241.25 L1066.15,1258.48"/>
<path d="M686.07,947.92 A340.75,340.75 0 0 1 682.75,900.50"/>
<path d="M704.35,941.12 L682.75,900.50 L665.52,943.15"/>
</g>
<!-- enzyme labels -->
<path id="pOrn" d="M796.50,765.72 A264,264 0 0 1 890.30,672.56" fill="none"/>
<text font-size="35" fill="#1a8b45" stroke="#1a8b45" stroke-width="1.2"><textPath href="#pOrn" startOffset="0" textLength="133.6" lengthAdjust="spacingAndGlyphs">Ornithine</textPath></text>
<path id="pCar" d="M791.72,868.34 A234,234 0 0 1 990.93,668.78" fill="none"/>
<text font-size="28" fill="#1a8b45" stroke="#1a8b45" stroke-width="1.2"><textPath href="#pCar" startOffset="0" textLength="302.6" lengthAdjust="spacingAndGlyphs">Carbamoyltransferase</textPath></text>
<path id="pArg1" d="M1099.94,645.72 A266,266 0 0 1 1278.55,824.95" fill="none"/>
<text font-size="29" fill="#1a8b45" stroke="#1a8b45" stroke-width="1.2"><textPath href="#pArg1" startOffset="0" textLength="263.7" lengthAdjust="spacingAndGlyphs">Argininosuccinate</textPath></text>
<path id="pSyn" d="M1137.43,694.96 A235,235 0 0 1 1228.03,784.78" fill="none"/>
<text font-size="29" fill="#1a8b45" stroke="#1a8b45" stroke-width="1.2"><textPath href="#pSyn" startOffset="0" textLength="129.2" lengthAdjust="spacingAndGlyphs">Synthase</textPath></text>
<path id="pArgi" d="M799.46,1013.67 A251,251 0 0 0 889.75,1112.89" fill="none"/>
<text font-size="30" fill="#1a8b45" stroke="#1a8b45" stroke-width="1.2"><textPath href="#pArgi" startOffset="0" textLength="135.8" lengthAdjust="spacingAndGlyphs">Arginase</textPath></text>
<path id="pArg2" d="M1091.60,1140.47 A252,252 0 0 0 1274.53,951.04" fill="none"/>
<text font-size="29" fill="#1a8b45" stroke="#1a8b45" stroke-width="1.2"><textPath href="#pArg2" startOffset="0" textLength="277.1" lengthAdjust="spacingAndGlyphs">Argininosuccinate</textPath></text>
<path id="pLya" d="M1200.78,1121.02 A283,283 0 0 0 1257.45,1062.84" fill="none"/>
<text font-size="29" fill="#1a8b45" stroke="#1a8b45" stroke-width="1.2"><textPath href="#pLya" startOffset="0" textLength="81.5" lengthAdjust="spacingAndGlyphs">Lyase</textPath></text>
<circle cx="880.6" cy="768.8" r="18.6" fill="#11933f"/>
<text x="874.7" y="776.6999999999999" font-size="23" fill="#e9fbf5" stroke="#e9fbf5" stroke-width="0.9" stroke-linejoin="round" class="sansb" textLength="11.8" lengthAdjust="spacingAndGlyphs">2</text>
<circle cx="1170.6" cy="768.8" r="18.6" fill="#11933f"/>
<text x="1164.6999999999998" y="776.6999999999999" font-size="23" fill="#e9fbf5" stroke="#e9fbf5" stroke-width="0.9" stroke-linejoin="round" class="sansb" textLength="11.8" lengthAdjust="spacingAndGlyphs">3</text>
<circle cx="880.6" cy="1031.5" r="18.6" fill="#11933f"/>
<text x="874.7" y="1039.4" font-size="23" fill="#e9fbf5" stroke="#e9fbf5" stroke-width="0.9" stroke-linejoin="round" class="sansb" textLength="11.8" lengthAdjust="spacingAndGlyphs">5</text>
<circle cx="1170.8" cy="1032" r="18.6" fill="#11933f"/>
<text x="1164.8999999999999" y="1039.9" font-size="23" fill="#e9fbf5" stroke="#e9fbf5" stroke-width="0.9" stroke-linejoin="round" class="sansb" textLength="11.8" lengthAdjust="spacingAndGlyphs">4</text>
<g fill="#0b4b73" fill-rule="evenodd"><use href="#tUREA" transform="translate(900.6,884.4) scale(0.269,0.2707) translate(-63.5,-114.25)"/><use href="#tCYCLE" transform="translate(1019.6,884.4) scale(0.278,0.2707) translate(-495.75,-114.25)"/></g>
<!-- cycle labels -->
<g fill="#166eaf" stroke="#166eaf" stroke-width="1.25" font-size="30.5">
<text x="952" y="529" textLength="142" lengthAdjust="spacingAndGlyphs">Citrulline</text>
<text x="1394.500" y="892.800" textLength="139.500" lengthAdjust="spacingAndGlyphs">Arginino-</text>
<text x="1394.500" y="922.900" textLength="138" lengthAdjust="spacingAndGlyphs">succinate</text>
<text x="957.500" y="1290" textLength="125" lengthAdjust="spacingAndGlyphs">Agrinine</text>
<text x="508" y="909.500" textLength="144" lengthAdjust="spacingAndGlyphs">Ornithine</text>
</g>
<g fill="#ee5a80" stroke="#ee5a80" stroke-width="1.25" font-size="30.5">
<text x="1337" y="594.400" textLength="142.500" lengthAdjust="spacingAndGlyphs">Aspartate</text>
<text x="1338" y="1228" textLength="140.500" lengthAdjust="spacingAndGlyphs">Fumarate</text>
</g>
<g fill="none" stroke="#f0587f" stroke-width="10.5" stroke-linecap="round" stroke-linejoin="round">
<path d="M1326.500,605 C1308,640 1302,690 1322,738"/>
<path d="M1325.500,1059 C1308,1095 1303,1145 1322,1192"/>
</g>
<g fill="#f0587f" stroke="#f0587f" stroke-width="10.5" stroke-linejoin="round" stroke-linecap="round">
<path d="M1306.7,734.5 L1324,743.3 L1330.6,723.75"/>
<path d="M1309.4,1188.5 L1326,1198 L1332.4,1178.5"/>
</g>
<!-- urea / bloodstream / kidneys / urine -->
<defs>
<linearGradient id="gKidL" x1="0" y1="0" x2="1" y2="0">
<stop offset="0" stop-color="#bf2730"/><stop offset="0.5" stop-color="#c93034"/><stop offset="0.8" stop-color="#de5048"/><stop offset="1" stop-color="#e96a58"/>
</linearGradient>
<linearGradient id="gKidR" x1="1" y1="0" x2="0" y2="0">
<stop offset="0" stop-color="#bf2730"/><stop offset="0.5" stop-color="#c93034"/><stop offset="0.8" stop-color="#de5048"/><stop offset="1" stop-color="#e96a58"/>
</linearGradient>
<path id="pBlood" d="M276,1277 A237,237 0 0 1 513,1040" fill="none"/>
</defs>
<g fill="none" stroke="#0b4b73" stroke-width="11" stroke-linecap="round" stroke-linejoin="round">
<path d="M828,1277 C828,1235 816,1190 792,1152 C780,1135 768,1124 755,1112 C730,1090 690,1066 625,1062"/>
<path d="M511,1064 C388,1062 298,1142 300,1268"/>
<path d="M300,1425 L300,1495"/>
</g>
<g fill="#0b4b73" stroke="#0b4b73" stroke-width="11" stroke-linejoin="round" stroke-linecap="round">
<path d="M634,1052.3 L618.5,1061 L632,1075"/>
<path d="M285,1257 L300,1274 L315,1257"/>
<path d="M285,1481 L300,1497.5 L315,1481"/>
</g>
<use href="#tUREA" fill="#0b4b73" fill-rule="evenodd" transform="translate(521.2,1051) scale(0.2004,0.189) translate(-63.5,-114.25)"/>
<text font-size="28" fill="#0b4b73" stroke="#0b4b73" stroke-width="1.25"><textPath href="#pBlood" startOffset="112" textLength="184" lengthAdjust="spacingAndGlyphs">Bloodstream</textPath></text>
<circle cx="827.8" cy="1325.8" r="35.5" fill="#0b72bf"/>
<g fill="#fff" stroke="#fff" stroke-linejoin="round">
<text x="800.6" y="1335.3" font-size="32.5" stroke-width="1.3" textLength="21.9" lengthAdjust="spacingAndGlyphs">H</text>
<text x="823.6" y="1342" font-size="19.5" stroke-width="0.9" textLength="11.8" lengthAdjust="spacingAndGlyphs">2</text>
<text x="838.8" y="1335.3" font-size="24" stroke-width="2" textLength="16.3" lengthAdjust="spacingAndGlyphs">O</text>
</g>
<!-- kidneys -->
<path d="M242,1292 C258,1292 274,1304 278,1322 C280,1334 277,1343 272,1347 L252,1346 L238,1312 Z" fill="#fbdc8a"/>
<path d="M358,1292 C342,1292 326,1304 322,1322 C320,1334 323,1343 328,1347 L348,1346 L362,1312 Z" fill="#fbdc8a"/>
<path d="M222,1213 C245,1211 266,1226 266,1250 C266,1272 252,1284 246,1294 C243,1300 244,1304 242,1308 C240,1312 240,1314 242,1318 C246,1326 256,1334 256,1352 C256,1372 238,1383 222,1382.500 C190,1382 165,1345 165,1298 C165,1250 190,1215 222,1213 Z" fill="url(#gKidL)"/>
<path d="M378,1213 C355,1211 334,1226 334,1250 C334,1272 348,1284 354,1294 C357,1300 356,1304 358,1308 C360,1312 360,1314 358,1318 C354,1326 344,1334 344,1352 C344,1372 362,1383 378,1382.500 C410,1382 435,1345 435,1298 C435,1250 410,1215 378,1213 Z" fill="url(#gKidR)"/>
<g fill="#0d4a6e" stroke="#0d4a6e" stroke-width="1.25" font-size="30.5">
<text x="241" y="1410" textLength="117" lengthAdjust="spacingAndGlyphs">Kidneys</text>
<text x="259.500" y="1542.500" textLength="80" lengthAdjust="spacingAndGlyphs">Urine</text>
</g>
<!-- watermark -->
<defs><g id="wmt" fill="none" stroke-width="5.6"><circle cx="-112.4" cy="0" r="8.2"/><path d="M-103.7,-22.3 L-103.7,11.1" stroke-width="6.1"/><path d="M-80.99,-3.72 A8.2,8.2 0 1 0 -81.84,5.05"/><path d="M-95.61,3.72 L-79.79,-4.32" stroke-width="4.6"/><circle cx="-67.4" cy="0" r="8.2"/><path d="M-76.5,-11.1 L-76.5,19.1" stroke-width="6.1"/><circle cx="-44.80000000000001" cy="0" r="8.2"/><path d="M-20.3,-5.6 C-22.0,-9.2 -30.1,-9.6 -30.1,-4.8 C-30.1,-0.2 -20.7,-0.6 -20.7,4.6 C-20.7,9.6 -29.7,9.6 -31.3,5" stroke-width="5.2"/><path d="M-14.0,-10.9 L-14.0,11.1" stroke-width="6.1"/><circle cx="-14.0" cy="-19.3" r="0.8" stroke-width="5.8"/><path d="M-5.400000000000006,-17.1 L-5.400000000000006,11.1" stroke-width="6.1"/><path d="M-10.900000000000006,-8.1 L4.900000000000006,-8.1" stroke-width="4.8"/><circle cx="17.30000000000001" cy="0" r="8.2"/><path d="M8.300000000000011,-11.1 L8.300000000000011,19.1" stroke-width="6.1"/><path d="M32.60000000000002,-22.3 L32.60000000000002,11.1" stroke-width="6.1"/><path d="M32.60000000000002,1.5 A7.9,7.9 0 0 1 48.39999999999998,1.5 L48.39999999999998,11.1" stroke-width="6"/><circle cx="63.60000000000002" cy="0" r="8.2"/><path d="M80.5,-18.7 L80.5,11.1" stroke-width="6.1"/><path d="M74.69999999999999,-8.1 L86.5,-8.1" stroke-width="4.8"/><circle cx="97.19999999999999" cy="0" r="8.2"/><path d="M121.50000000000001,-5.6 C119.80000000000001,-9.2 111.70000000000002,-9.6 111.70000000000002,-4.8 C111.70000000000002,-0.2 121.10000000000001,-0.6 121.10000000000001,4.6 C121.10000000000001,9.6 112.10000000000001,9.6 110.50000000000001,5" stroke-width="5.2"/></g><g id="wmi"><rect x="-13.2" y="-9.4" width="26.4" height="18.8" rx="2" fill="#000" opacity="0.055"/><path d="M-6,-9.4 L-4,-12 L4,-12 L6,-9.400 Z" fill="#000" opacity="0.055"/><circle cx="0" cy="0.300" r="6.200" fill="none" stroke="#fff" stroke-width="1.800" opacity="0.25"/><circle cx="0" cy="0.3" r="3.400" fill="none" stroke="#fff" stroke-width="1.200" opacity="0.18"/><rect x="8" y="-7" width="3" height="2.200" fill="#fff" opacity="0.25"/></g><g id="wmt2" fill="none" stroke-width="7.3"><circle cx="-112.4" cy="0" r="8.2"/><path d="M-103.7,-22.3 L-103.7,11.1" stroke-width="7.8"/><path d="M-80.99,-3.72 A8.2,8.2 0 1 0 -81.84,5.05"/><path d="M-95.61,3.72 L-79.79,-4.32" stroke-width="6.3"/><circle cx="-67.4" cy="0" r="8.2"/><path d="M-76.5,-11.1 L-76.5,19.1" stroke-width="7.8"/><circle cx="-44.80000000000001" cy="0" r="8.2"/><path d="M-20.3,-5.6 C-22.0,-9.2 -30.1,-9.6 -30.1,-4.8 C-30.1,-0.2 -20.7,-0.6 -20.7,4.6 C-20.7,9.6 -29.7,9.6 -31.3,5" stroke-width="6.9"/><path d="M-14.0,-10.9 L-14.0,11.1" stroke-width="7.8"/><circle cx="-14.0" cy="-19.3" r="0.8" stroke-width="7.5"/><path d="M-5.400000000000006,-17.1 L-5.400000000000006,11.1" stroke-width="7.8"/><path d="M-10.900000000000006,-8.1 L4.900000000000006,-8.1" stroke-width="6.5"/><circle cx="17.30000000000001" cy="0" r="8.2"/><path d="M8.300000000000011,-11.1 L8.300000000000011,19.1" stroke-width="7.8"/><path d="M32.60000000000002,-22.3 L32.60000000000002,11.1" stroke-width="7.8"/><path d="M32.60000000000002,1.5 A7.9,7.9 0 0 1 48.39999999999998,1.5 L48.39999999999998,11.1" stroke-width="7.7"/><circle cx="63.60000000000002" cy="0" r="8.2"/><path d="M80.5,-18.7 L80.5,11.1" stroke-width="7.8"/><path d="M74.69999999999999,-8.1 L86.5,-8.1" stroke-width="6.5"/><circle cx="97.19999999999999" cy="0" r="8.2"/><path d="M121.50000000000001,-5.6 C119.80000000000001,-9.2 111.70000000000002,-9.6 111.70000000000002,-4.8 C111.70000000000002,-0.2 121.10000000000001,-0.6 121.10000000000001,4.6 C121.10000000000001,9.6 112.10000000000001,9.6 110.50000000000001,5" stroke-width="6.9"/></g><mask id="wmMask" maskUnits="userSpaceOnUse" x="-150" y="-40" width="300" height="80"><rect x="-150" y="-40" width="300" height="80" fill="#fff"/><use href="#wmt" stroke="#000"/></mask></defs>
<g clip-path="url(#cpMain)">
<g stroke="#000" stroke-opacity="0.045" stroke-width="2.2" fill="none">
<path d="M-76.3,1535.4 L-5.4,1474.9"/>
<path d="M-76.3,1575.8 L73.4,1704.0"/>
<path d="M-76.3,1198.6 L73.4,1070.8"/>
<path d="M-76.3,1239.0 L77.3,1370.5"/>
<path d="M199.4,1299.9 L270.3,1239.4"/>
<path d="M116.7,1404.3 L270.3,1535.8"/>
<path d="M317.5,1535.8 L467.2,1408.0"/>
<path d="M317.5,1576.2 L471.1,1707.7"/>
<path d="M-76.3,861.8 L-5.4,801.3"/>
<path d="M-76.3,902.2 L73.4,1030.4"/>
<path d="M120.6,1030.4 L270.3,902.6"/>
<path d="M120.6,1070.8 L270.3,1199.0"/>
<path d="M317.5,1199.0 L388.4,1138.5"/>
<path d="M317.5,1239.4 L467.2,1367.6"/>
<path d="M514.4,1367.6 L664.1,1239.8"/>
<path d="M514.4,1408.0 L664.1,1536.2"/>
<path d="M711.3,1536.2 L782.2,1475.7"/>
<path d="M711.3,1576.6 L861.0,1704.8"/>
<path d="M-76.3,525.0 L73.4,397.2"/>
<path d="M-76.3,565.4 L77.3,696.9"/>
<path d="M199.4,626.3 L270.3,565.8"/>
<path d="M116.7,730.7 L270.3,862.2"/>
<path d="M317.5,862.2 L467.2,734.4"/>
<path d="M317.5,902.6 L471.1,1034.1"/>
<path d="M593.2,963.5 L664.1,903.0"/>
<path d="M510.5,1067.9 L664.1,1199.4"/>
<path d="M711.3,1199.4 L861.0,1071.6"/>
<path d="M711.3,1239.8 L864.9,1371.3"/>
<path d="M987.0,1300.7 L1057.9,1240.2"/>
<path d="M904.3,1405.1 L1057.9,1536.6"/>
<path d="M1105.1,1536.6 L1254.8,1408.8"/>
<path d="M1105.1,1577.0 L1258.7,1708.5"/>
<path d="M-76.3,188.2 L-5.4,127.7"/>
<path d="M-76.3,228.6 L73.4,356.8"/>
<path d="M120.6,356.8 L270.3,229.0"/>
<path d="M120.6,397.2 L270.3,525.4"/>
<path d="M317.5,525.4 L388.4,464.9"/>
<path d="M317.5,565.8 L467.2,694.0"/>
<path d="M514.4,694.0 L664.1,566.2"/>
<path d="M514.4,734.4 L664.1,862.6"/>
<path d="M711.3,862.6 L782.2,802.1"/>
<path d="M711.3,903.0 L861.0,1031.2"/>
<path d="M908.2,1031.2 L1057.9,903.4"/>
<path d="M908.2,1071.6 L1057.9,1199.8"/>
<path d="M1105.1,1199.8 L1176.0,1139.3"/>
<path d="M1105.1,1240.2 L1254.8,1368.4"/>
<path d="M1302.0,1368.4 L1451.7,1240.6"/>
<path d="M1302.0,1408.8 L1451.7,1537.0"/>
<path d="M1498.9,1537.0 L1569.8,1476.5"/>
<path d="M1498.9,1577.4 L1648.6,1705.6"/>
<path d="M-76.3,-148.6 L73.4,-276.4"/>
<path d="M-76.3,-108.2 L77.3,23.3"/>
<path d="M199.4,-47.3 L270.3,-107.8"/>
<path d="M116.7,57.1 L270.3,188.6"/>
<path d="M317.5,188.6 L467.2,60.8"/>
<path d="M317.5,229.0 L471.1,360.5"/>
<path d="M593.2,289.9 L664.1,229.4"/>
<path d="M510.5,394.3 L664.1,525.8"/>
<path d="M711.3,525.8 L861.0,398.0"/>
<path d="M711.3,566.2 L864.9,697.7"/>
<path d="M987.0,627.1 L1057.9,566.6"/>
<path d="M904.3,731.5 L1057.9,863.0"/>
<path d="M1105.1,863.0 L1254.8,735.2"/>
<path d="M1105.1,903.4 L1258.7,1034.9"/>
<path d="M1380.8,964.3 L1451.7,903.8"/>
<path d="M1298.1,1068.7 L1451.7,1200.2"/>
<path d="M1498.9,1200.2 L1648.6,1072.4"/>
<path d="M1498.9,1240.6 L1652.5,1372.1"/>
<path d="M1774.6,1301.5 L1845.5,1241.0"/>
<path d="M1691.9,1405.9 L1845.5,1537.4"/>
<path d="M317.5,-148.2 L388.4,-208.7"/>
<path d="M317.5,-107.8 L467.2,20.4"/>
<path d="M514.4,20.4 L664.1,-107.4"/>
<path d="M514.4,60.8 L664.1,189.0"/>
<path d="M711.3,189.0 L782.2,128.5"/>
<path d="M711.3,229.4 L861.0,357.6"/>
<path d="M908.2,357.6 L1057.9,229.8"/>
<path d="M908.2,398.0 L1057.9,526.2"/>
<path d="M1105.1,526.2 L1176.0,465.7"/>
<path d="M1105.1,566.6 L1254.8,694.8"/>
<path d="M1302.0,694.8 L1451.7,567.0"/>
<path d="M1302.0,735.2 L1451.7,863.4"/>
<path d="M1498.9,863.4 L1569.8,802.9"/>
<path d="M1498.9,903.8 L1648.6,1032.0"/>
<path d="M1695.8,1032.0 L1845.5,904.2"/>
<path d="M1695.8,1072.4 L1845.5,1200.6"/>
<path d="M711.3,-147.8 L861.0,-275.6"/>
<path d="M711.3,-107.4 L864.9,24.1"/>
<path d="M987.0,-46.5 L1057.9,-107.0"/>
<path d="M904.3,57.9 L1057.9,189.4"/>
<path d="M1105.1,189.4 L1254.8,61.6"/>
<path d="M1105.1,229.8 L1258.7,361.3"/>
<path d="M1380.8,290.7 L1451.7,230.2"/>
<path d="M1298.1,395.1 L1451.7,526.6"/>
<path d="M1498.9,526.6 L1648.6,398.8"/>
<path d="M1498.9,567.0 L1652.5,698.5"/>
<path d="M1774.6,627.9 L1845.5,567.4"/>
<path d="M1691.9,732.3 L1845.5,863.8"/>
<path d="M1105.1,-147.4 L1176.0,-207.9"/>
<path d="M1105.1,-107.0 L1254.8,21.2"/>
<path d="M1302.0,21.2 L1451.7,-106.6"/>
<path d="M1302.0,61.6 L1451.7,189.8"/>
<path d="M1498.9,189.8 L1569.8,129.3"/>
<path d="M1498.9,230.2 L1648.6,358.4"/>
<path d="M1695.8,358.4 L1845.5,230.6"/>
<path d="M1695.8,398.8 L1845.5,527.0"/>
<path d="M1498.9,-147.0 L1648.6,-274.8"/>
<path d="M1498.9,-106.6 L1652.5,24.9"/>
<path d="M1774.6,-45.7 L1845.5,-106.2"/>
<path d="M1691.9,58.7 L1845.5,190.2"/>
</g>
<g stroke="#fff" stroke-opacity="0.25" stroke-width="1.4" fill="none">
<path d="M-76.3,1535.4 L-5.4,1474.9"/>
<path d="M-76.3,1575.8 L73.4,1704.0"/>
<path d="M-76.3,1198.6 L73.4,1070.8"/>
<path d="M-76.3,1239.0 L77.3,1370.5"/>
<path d="M199.4,1299.9 L270.3,1239.4"/>
<path d="M116.7,1404.3 L270.3,1535.8"/>
<path d="M317.5,1535.8 L467.2,1408.0"/>
<path d="M317.5,1576.2 L471.1,1707.7"/>
<path d="M-76.3,861.8 L-5.4,801.3"/>
<path d="M-76.3,902.2 L73.4,1030.4"/>
<path d="M120.6,1030.4 L270.3,902.6"/>
<path d="M120.6,1070.8 L270.3,1199.0"/>
<path d="M317.5,1199.0 L388.4,1138.5"/>
<path d="M317.5,1239.4 L467.2,1367.6"/>
<path d="M514.4,1367.6 L664.1,1239.8"/>
<path d="M514.4,1408.0 L664.1,1536.2"/>
<path d="M711.3,1536.2 L782.2,1475.7"/>
<path d="M711.3,1576.6 L861.0,1704.8"/>
<path d="M-76.3,525.0 L73.4,397.2"/>
<path d="M-76.3,565.4 L77.3,696.9"/>
<path d="M199.4,626.3 L270.3,565.8"/>
<path d="M116.7,730.7 L270.3,862.2"/>
<path d="M317.5,862.2 L467.2,734.4"/>
<path d="M317.5,902.6 L471.1,1034.1"/>
<path d="M593.2,963.5 L664.1,903.0"/>
<path d="M510.5,1067.9 L664.1,1199.4"/>
<path d="M711.3,1199.4 L861.0,1071.6"/>
<path d="M711.3,1239.8 L864.9,1371.3"/>
<path d="M987.0,1300.7 L1057.9,1240.2"/>
<path d="M904.3,1405.1 L1057.9,1536.6"/>
<path d="M1105.1,1536.6 L1254.8,1408.8"/>
<path d="M1105.1,1577.0 L1258.7,1708.5"/>
<path d="M-76.3,188.2 L-5.4,127.7"/>
<path d="M-76.3,228.6 L73.4,356.8"/>
<path d="M120.6,356.8 L270.3,229.0"/>
<path d="M120.6,397.2 L270.3,525.4"/>
<path d="M317.5,525.4 L388.4,464.9"/>
<path d="M317.5,565.8 L467.2,694.0"/>
<path d="M514.4,694.0 L664.1,566.2"/>
<path d="M514.4,734.4 L664.1,862.6"/>
<path d="M711.3,862.6 L782.2,802.1"/>
<path d="M711.3,903.0 L861.0,1031.2"/>
<path d="M908.2,1031.2 L1057.9,903.4"/>
<path d="M908.2,1071.6 L1057.9,1199.8"/>
<path d="M1105.1,1199.8 L1176.0,1139.3"/>
<path d="M1105.1,1240.2 L1254.8,1368.4"/>
<path d="M1302.0,1368.4 L1451.7,1240.6"/>
<path d="M1302.0,1408.8 L1451.7,1537.0"/>
<path d="M1498.9,1537.0 L1569.8,1476.5"/>
<path d="M1498.9,1577.4 L1648.6,1705.6"/>
<path d="M-76.3,-148.6 L73.4,-276.4"/>
<path d="M-76.3,-108.2 L77.3,23.3"/>
<path d="M199.4,-47.3 L270.3,-107.8"/>
<path d="M116.7,57.1 L270.3,188.6"/>
<path d="M317.5,188.6 L467.2,60.8"/>
<path d="M317.5,229.0 L471.1,360.5"/>
<path d="M593.2,289.9 L664.1,229.4"/>
<path d="M510.5,394.3 L664.1,525.8"/>
<path d="M711.3,525.8 L861.0,398.0"/>
<path d="M711.3,566.2 L864.9,697.7"/>
<path d="M987.0,627.1 L1057.9,566.6"/>
<path d="M904.3,731.5 L1057.9,863.0"/>
<path d="M1105.1,863.0 L1254.8,735.2"/>
<path d="M1105.1,903.4 L1258.7,1034.9"/>
<path d="M1380.8,964.3 L1451.7,903.8"/>
<path d="M1298.1,1068.7 L1451.7,1200.2"/>
<path d="M1498.9,1200.2 L1648.6,1072.4"/>
<path d="M1498.9,1240.6 L1652.5,1372.1"/>
<path d="M1774.6,1301.5 L1845.5,1241.0"/>
<path d="M1691.9,1405.9 L1845.5,1537.4"/>
<path d="M317.5,-148.2 L388.4,-208.7"/>
<path d="M317.5,-107.8 L467.2,20.4"/>
<path d="M514.4,20.4 L664.1,-107.4"/>
<path d="M514.4,60.8 L664.1,189.0"/>
<path d="M711.3,189.0 L782.2,128.5"/>
<path d="M711.3,229.4 L861.0,357.6"/>
<path d="M908.2,357.6 L1057.9,229.8"/>
<path d="M908.2,398.0 L1057.9,526.2"/>
<path d="M1105.1,526.2 L1176.0,465.7"/>
<path d="M1105.1,566.6 L1254.8,694.8"/>
<path d="M1302.0,694.8 L1451.7,567.0"/>
<path d="M1302.0,735.2 L1451.7,863.4"/>
<path d="M1498.9,863.4 L1569.8,802.9"/>
<path d="M1498.9,903.8 L1648.6,1032.0"/>
<path d="M1695.8,1032.0 L1845.5,904.2"/>
<path d="M1695.8,1072.4 L1845.5,1200.6"/>
<path d="M711.3,-147.8 L861.0,-275.6"/>
<path d="M711.3,-107.4 L864.9,24.1"/>
<path d="M987.0,-46.5 L1057.9,-107.0"/>
<path d="M904.3,57.9 L1057.9,189.4"/>
<path d="M1105.1,189.4 L1254.8,61.6"/>
<path d="M1105.1,229.8 L1258.7,361.3"/>
<path d="M1380.8,290.7 L1451.7,230.2"/>
<path d="M1298.1,395.1 L1451.7,526.6"/>
<path d="M1498.9,526.6 L1648.6,398.8"/>
<path d="M1498.9,567.0 L1652.5,698.5"/>
<path d="M1774.6,627.9 L1845.5,567.4"/>
<path d="M1691.9,732.3 L1845.5,863.8"/>
<path d="M1105.1,-147.4 L1176.0,-207.9"/>
<path d="M1105.1,-107.0 L1254.8,21.2"/>
<path d="M1302.0,21.2 L1451.7,-106.6"/>
<path d="M1302.0,61.6 L1451.7,189.8"/>
<path d="M1498.9,189.8 L1569.8,129.3"/>
<path d="M1498.9,230.2 L1648.6,358.4"/>
<path d="M1695.8,358.4 L1845.5,230.6"/>
<path d="M1695.8,398.8 L1845.5,527.0"/>
<path d="M1498.9,-147.0 L1648.6,-274.8"/>
<path d="M1498.9,-106.6 L1652.5,24.9"/>
<path d="M1774.6,-45.7 L1845.5,-106.2"/>
<path d="M1691.9,58.7 L1845.5,190.2"/>
</g>
<use href="#wmi" x="293.9" y="1556.0"/>
<use href="#wmi" x="97.0" y="1050.6"/>
<use href="#wmi" x="293.9" y="1219.2"/>
<use href="#wmi" x="490.8" y="1387.8"/>
<use href="#wmi" x="687.7" y="1556.4"/>
<use href="#wmi" x="293.9" y="882.4"/>
<use href="#wmi" x="687.7" y="1219.6"/>
<use href="#wmi" x="1081.5" y="1556.8"/>
<use href="#wmi" x="97.0" y="377.0"/>
<use href="#wmi" x="293.9" y="545.6"/>
<use href="#wmi" x="490.8" y="714.2"/>
<use href="#wmi" x="687.7" y="882.8"/>
<use href="#wmi" x="884.6" y="1051.4"/>
<use href="#wmi" x="1081.5" y="1220.0"/>
<use href="#wmi" x="1278.4" y="1388.6"/>
<use href="#wmi" x="293.9" y="208.8"/>
<use href="#wmi" x="687.7" y="546.0"/>
<use href="#wmi" x="1081.5" y="883.2"/>
<use href="#wmi" x="1475.3" y="1220.4"/>
<use href="#wmi" x="490.8" y="40.6"/>
<use href="#wmi" x="687.7" y="209.2"/>
<use href="#wmi" x="884.6" y="377.8"/>
<use href="#wmi" x="1081.5" y="546.4"/>
<use href="#wmi" x="1278.4" y="715.0"/>
<use href="#wmi" x="1475.3" y="883.6"/>
<use href="#wmi" x="1081.5" y="209.6"/>
<use href="#wmi" x="1475.3" y="546.8"/>
<use href="#wmi" x="1278.4" y="41.4"/>
<use href="#wmi" x="1475.3" y="210.0"/>
<g transform="translate(97.0,1387.4) rotate(-40.51) scale(1.07)"><g mask="url(#wmMask)"><use href="#wmt2" stroke="#000" opacity="0.085"/></g><use href="#wmt" stroke="#fff" opacity="0.36"/></g>
<g transform="translate(97.0,713.8) rotate(-40.51) scale(1.07)"><g mask="url(#wmMask)"><use href="#wmt2" stroke="#000" opacity="0.085"/></g><use href="#wmt" stroke="#fff" opacity="0.36"/></g>
<g transform="translate(490.8,1051.0) rotate(-40.51) scale(1.07)"><g mask="url(#wmMask)"><use href="#wmt2" stroke="#000" opacity="0.085"/></g><use href="#wmt" stroke="#fff" opacity="0.36"/></g>
<g transform="translate(884.6,1388.2) rotate(-40.51) scale(1.07)"><g mask="url(#wmMask)"><use href="#wmt2" stroke="#000" opacity="0.085"/></g><use href="#wmt" stroke="#fff" opacity="0.36"/></g>
<g transform="translate(1475.3,1557.2) rotate(-40.51) scale(1.07)"><g mask="url(#wmMask)"><use href="#wmt2" stroke="#000" opacity="0.085"/></g><use href="#wmt" stroke="#fff" opacity="0.36"/></g>
<g transform="translate(97.0,40.2) rotate(-40.51) scale(1.07)"><g mask="url(#wmMask)"><use href="#wmt2" stroke="#000" opacity="0.085"/></g><use href="#wmt" stroke="#fff" opacity="0.36"/></g>
<g transform="translate(490.8,377.4) rotate(-40.51) scale(1.07)"><g mask="url(#wmMask)"><use href="#wmt2" stroke="#000" opacity="0.085"/></g><use href="#wmt" stroke="#fff" opacity="0.36"/></g>
<g transform="translate(884.6,714.6) rotate(-40.51) scale(1.07)"><g mask="url(#wmMask)"><use href="#wmt2" stroke="#000" opacity="0.085"/></g><use href="#wmt" stroke="#fff" opacity="0.36"/></g>
<g transform="translate(1278.4,1051.8) rotate(-40.51) scale(1.07)"><g mask="url(#wmMask)"><use href="#wmt2" stroke="#000" opacity="0.085"/></g><use href="#wmt" stroke="#fff" opacity="0.36"/></g>
<g transform="translate(884.6,41.0) rotate(-40.51) scale(1.07)"><g mask="url(#wmMask)"><use href="#wmt2" stroke="#000" opacity="0.085"/></g><use href="#wmt" stroke="#fff" opacity="0.36"/></g>
<g transform="translate(1278.4,378.2) rotate(-40.51) scale(1.07)"><g mask="url(#wmMask)"><use href="#wmt2" stroke="#000" opacity="0.085"/></g><use href="#wmt" stroke="#fff" opacity="0.36"/></g>
<g transform="translate(1672.2,715.4) rotate(-40.51) scale(1.07)"><g mask="url(#wmMask)"><use href="#wmt2" stroke="#000" opacity="0.085"/></g><use href="#wmt" stroke="#fff" opacity="0.36"/></g>
<g transform="translate(1672.2,41.8) rotate(-40.51) scale(1.07)"><g mask="url(#wmMask)"><use href="#wmt2" stroke="#000" opacity="0.085"/></g><use href="#wmt" stroke="#fff" opacity="0.36"/></g>
</g>
<!-- footer -->
<rect x="0" y="1600" width="1600" height="100" fill="#323232"/>
<circle cx="67.8" cy="1650" r="27.6" fill="#fff"/>
<path d="M54.2,1638 L62.5,1638 L65.5,1633.6 L77.5,1633.6 L80.5,1638 L91,1638 Q94,1638 94,1641 L94,1663 Q94,1666 91,1666 L54.200,1666 Q51.200,1666 51.200,1663 L51.200,1641 Q51.200,1638 54.200,1638 Z" fill="#323232"/>
<circle cx="71.2" cy="1652.4" r="10.8" fill="none" stroke="#fff" stroke-width="2.3"/>
<circle cx="71.2" cy="1652.4" r="7.7" fill="#fff"/>
<path d="M68.6,1657.6 A5.8,5.8 0 0 1 66.2,1649.6" fill="none" stroke="#323232" stroke-width="1.3" stroke-linecap="round"/>
<path d="M74.5,1657.2 A5.8,5.8 0 0 1 69.5,1658" fill="none" stroke="#323232" stroke-width="0.9" stroke-linecap="round"/>
<rect x="85" y="1641.8" width="4.6" height="3.2" fill="#fff"/>
<g fill="none" stroke="#fff" stroke-width="5.6">
<circle cx="112.1" cy="1652.5" r="8.2"/>
<path d="M120.8,1630.2 L120.8,1663.6" stroke-width="6.1"/>
<path d="M143.51,1648.78 A8.2,8.2 0 1 0 142.66,1657.55" stroke-linecap="butt"/>
<path d="M128.89,1656.22 L144.71,1648.18" stroke-width="4.6"/>
<circle cx="157.1" cy="1652.5" r="8.2"/>
<path d="M148,1641.4 L148,1671.6" stroke-width="6.1"/>
<circle cx="179.7" cy="1652.5" r="8.2"/>
<path d="M204.2,1646.9 C202.5,1643.3 194.4,1642.9 194.4,1647.7 C194.4,1652.3 203.8,1651.9 203.8,1657.1 C203.8,1662.1 194.8,1662.1 193.2,1657.5" stroke-width="5.2"/>
<path d="M210.5,1641.6 L210.5,1663.6" stroke-width="6.1"/>
<path d="M219.1,1635.4 L219.1,1663.6" stroke-width="6.1"/>
<path d="M213.6,1644.4 L229.4,1644.4" stroke-width="4.8"/>
<circle cx="241.8" cy="1652.5" r="8.2"/>
<path d="M232.8,1641.4 L232.8,1671.6" stroke-width="6.1"/>
<path d="M257.1,1630.2 L257.1,1663.6" stroke-width="6.1"/>
<path d="M257.1,1654 A7.9,7.9 0 0 1 272.9,1654 L272.9,1663.6" stroke-width="6"/>
<circle cx="288.1" cy="1652.5" r="8.2"/>
<path d="M305,1633.8 L305,1663.6" stroke-width="6.1"/>
<path d="M299.2,1644.4 L311,1644.4" stroke-width="4.8"/>
<circle cx="321.7" cy="1652.5" r="8.2"/>
<path d="M346.0,1646.9 C344.3,1643.3 336.2,1642.9 336.2,1647.7 C336.2,1652.3 345.6,1651.9 345.6,1657.1 C345.6,1662.1 336.6,1662.1 335.0,1657.5" stroke-width="5.2"/>
</g>
<circle cx="210.5" cy="1633.2" r="3.7" fill="#fff"/>
<text x="1112.5" y="1656.5" class="sans" font-size="21" fill="#fff" textLength="191" lengthAdjust="spacingAndGlyphs">Image ID: 329199198</text>
<rect x="1322" y="1633" width="1" height="36" fill="#6a6a6a"/>
<text x="1343" y="1656.5" class="sans" font-size="21" fill="#fff" textLength="217" lengthAdjust="spacingAndGlyphs">www.depositphotos.com</text>
<!-- frame -->
<rect x="0.5" y="0.5" width="1599" height="1699" fill="none" stroke="#000" stroke-width="1"/>
</svg>
</body>
</html>
